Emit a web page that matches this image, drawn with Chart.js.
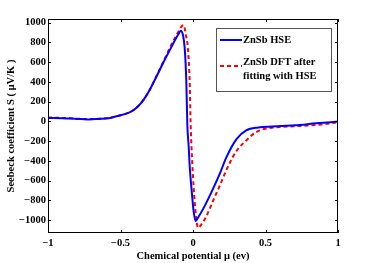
<!DOCTYPE html>
<html>
<head>
<meta charset="utf-8">
<script src="https://cdn.jsdelivr.net/npm/chart.js@4/dist/chart.umd.min.js"></script>
<style>
  html, body { margin: 0; padding: 0; background: #fff; }
  #wrap { width: 374px; height: 263px; }
</style>
</head>
<body>
<div id="wrap"><canvas id="c" width="374" height="263"></canvas></div>
<script>
// chemical potential (eV) / seebeck (uV/K)
var muHse = [-1, -0.9, -0.8, -0.72, -0.65, -0.58, -0.52, -0.46, -0.42, -0.38, -0.34, -0.3, -0.25, -0.2, -0.15, -0.12, -0.1, -0.085, -0.07, -0.057, -0.046, -0.039, -0.03, -0.023, -0.01, -0.004, 0.005, 0.019, 0.035, 0.069, 0.12, 0.185, 0.23, 0.3, 0.367, 0.45, 0.55, 0.7, 0.85, 1.0];
var sHse = [35, 32, 25, 20, 25, 32, 55, 78, 105, 150, 220, 316, 460, 610, 750, 835, 885, 920, 880, 740, 400, -40, -250, -450, -690, -790, -920, -1010, -975, -890, -740, -530, -365, -180, -92, -62, -52, -40, -20, -2];

var muDft = [-1, -0.9, -0.8, -0.72, -0.65, -0.58, -0.52, -0.46, -0.42, -0.38, -0.34, -0.3, -0.25, -0.2, -0.15, -0.12, -0.1, -0.08, -0.064, -0.05, -0.035, -0.023, -0.016, -0.004, 0.012, 0.035, 0.06, 0.093, 0.138, 0.185, 0.25, 0.3, 0.367, 0.435, 0.5, 0.6, 0.8, 0.9, 1.0];
var sDft = [40, 35, 27, 22, 27, 35, 55, 78, 105, 150, 220, 316, 465, 620, 775, 860, 910, 960, 975, 880, 740, 400, -40, -450, -823, -1080, -1040, -960, -806, -650, -431, -300, -194, -109, -75, -58, -42, -30, -10];

var xTicks = [-1, -0.5, 0, 0.5, 1];
var yTicks = [-1000, -800, -600, -400, -200, 0, 200, 400, 600, 800, 1000];
var seriesNames = ["ZnSb HSE", "ZnSb DFT after|fitting with HSE"];

function pts(xs, ys) {
  var out = [];
  for (var i = 0; i < xs.length; i++) out.push({ x: xs[i], y: ys[i] });
  return out;
}

var tickFont = { family: "'Liberation Serif', 'DejaVu Serif', serif", size: 10.5, weight: "bold" };

// matlab style box with inward ticks + legend
var framePlugin = {
  id: "frame",
  afterDatasetsDraw: function(chart) {
    var ctx = chart.ctx, a = chart.chartArea;
    var xs = chart.scales.x, ys = chart.scales.y;
    ctx.save();
    ctx.strokeStyle = "#000";
    ctx.lineWidth = 1;
    ctx.strokeRect(a.left + 0.5, a.top + 0.5, a.right - a.left - 1, a.bottom - a.top - 1);
    ctx.beginPath();
    xTicks.forEach(function(v) {
      var px = Math.round(xs.getPixelForValue(v)) + 0.5;
      ctx.moveTo(px, a.bottom); ctx.lineTo(px, a.bottom - 3);
      ctx.moveTo(px, a.top); ctx.lineTo(px, a.top + 3);
    });
    yTicks.forEach(function(v) {
      var py = Math.round(ys.getPixelForValue(v)) + 0.5;
      ctx.moveTo(a.left, py); ctx.lineTo(a.left + 3, py);
      ctx.moveTo(a.right, py); ctx.lineTo(a.right - 3, py);
    });
    ctx.stroke();

    // legend
    var lx = 216, ly = 28, lw = 115, lh = 63;
    ctx.fillStyle = "#fff";
    ctx.fillRect(lx, ly, lw, lh);
    ctx.strokeStyle = "#555";
    ctx.strokeRect(lx + 0.5, ly + 0.5, lw, lh);
    ctx.font = "bold 10.5px 'Liberation Serif', serif";
    ctx.fillStyle = "#000";
    ctx.textBaseline = "middle";
    var ds = chart.data.datasets;
    var rows = [[40], [62, 76]];
    ds.forEach(function(d, i) {
      var lines = seriesNames[i].split("|");
      var ymid = i === 0 ? rows[0][0] : 66;
      ctx.save();
      ctx.strokeStyle = d.borderColor;
      ctx.lineWidth = d.borderWidth;
      ctx.setLineDash(d.borderDash || []);
      ctx.beginPath();
      ctx.moveTo(220, ymid); ctx.lineTo(242, ymid);
      ctx.stroke();
      ctx.restore();
      lines.forEach(function(t, j) {
        ctx.fillText(t, 243, rows[i][j]);
      });
    });
    ctx.restore();
  }
};

new Chart(document.getElementById("c"), {
  type: "line",
  data: {
    datasets: [{
      label: "ZnSb HSE",
      data: pts(muHse, sHse),
      borderColor: "#0000ff",
      borderWidth: 2,
      pointRadius: 0,
      cubicInterpolationMode: "monotone",
      fill: false
    }, {
      label: "ZnSb DFT after fitting with HSE",
      data: pts(muDft, sDft),
      borderColor: "#ff0000",
      borderWidth: 2,
      borderDash: [4, 3],
      pointRadius: 0,
      cubicInterpolationMode: "monotone",
      fill: false
    }]
  },
  options: {
    responsive: false,
    animation: false,
    layout: { padding: { top: 19, right: 36, left: 5, bottom: 0 } },
    plugins: {
      legend: { display: false },
      tooltip: { enabled: false }
    },
    scales: {
      x: {
        type: "linear",
        min: -1,
        max: 1,
        afterBuildTicks: function(s) { s.ticks = xTicks.map(function(v) { return { value: v }; }); },
        afterFit: function(s) { s.height = 30; },
        grid: { display: false, drawTicks: false },
        border: { display: false },
        ticks: {
          font: tickFont,
          color: "#000",
          padding: 4,
          maxRotation: 0,
          callback: function(v) { return v < 0 ? "\u2212" + Math.abs(v) : String(v); }
        },
        title: {
          display: true,
          text: "Chemical potential \u03bc (ev)",
          font: tickFont,
          color: "#000",
          padding: { top: 0, bottom: 0 }
        }
      },
      y: {
        min: -1132,
        max: 1038,
        afterBuildTicks: function(s) { s.ticks = yTicks.map(function(v) { return { value: v }; }); },
        afterFit: function(s) { s.width = 43; },
        grid: { display: false, drawTicks: false },
        border: { display: false },
        ticks: {
          font: tickFont,
          color: "#000",
          padding: 2,
          callback: function(v) { return v < 0 ? "\u2212" + Math.abs(v) : String(v); }
        },
        title: {
          display: true,
          text: "Seebeck coefficient S ( \u03bcV/K )",
          font: tickFont,
          color: "#000",
          padding: { top: 0, bottom: 0 }
        }
      }
    }
  },
  plugins: [framePlugin]
});
</script>
</body>
</html>
